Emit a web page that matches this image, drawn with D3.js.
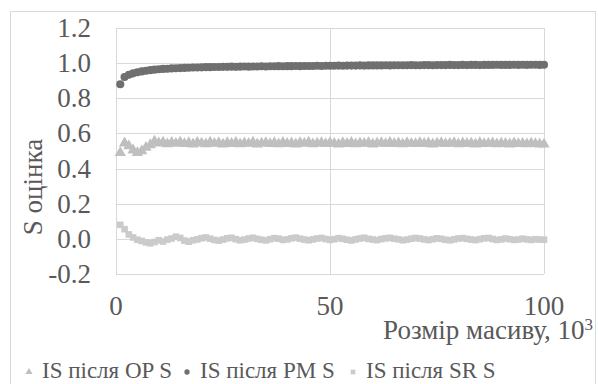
<!DOCTYPE html>
<html lang="uk">
<head>
<meta charset="utf-8">
<title>S оцінка</title>
<script src="https://cdn.jsdelivr.net/npm/d3@7"></script>
<style>
  body { margin: 0; background: #ffffff; }
  text { font-family: "Liberation Serif", "Times New Roman", serif; fill: #595959; }
</style>
</head>
<body>
<div id="chart"></div>
<script>
// ---------------- data ----------------
var xVals = d3.range(1, 101); // масив, тис.
var xTicks = [0, 50, 100];
var yTicks = [-0.2, 0, 0.2, 0.4, 0.6, 0.8, 1.0, 1.2];

var opS = [0.490,0.545,0.528,0.505,0.490,0.500,0.520,0.535,0.555,0.545,
  0.550,0.540,0.548,0.543,0.550,0.541,0.546,0.539,0.548,0.544,
  0.540,0.549,0.543,0.546,0.538,0.547,0.542,0.548,0.540,0.545,
  0.543,0.549,0.539,0.544,0.547,0.541,0.546,0.540,0.548,0.542,
  0.545,0.539,0.547,0.543,0.549,0.540,0.544,0.546,0.541,0.547,
  0.543,0.538,0.546,0.542,0.548,0.540,0.545,0.543,0.547,0.539,
  0.544,0.546,0.541,0.548,0.542,0.545,0.540,0.546,0.543,0.541,
  0.547,0.542,0.545,0.539,0.544,0.546,0.541,0.543,0.547,0.540,
  0.545,0.542,0.544,0.539,0.546,0.541,0.543,0.545,0.540,0.544,
  0.542,0.539,0.545,0.541,0.543,0.540,0.544,0.541,0.539,0.538];

var pmS = [0.880,0.921,0.934,0.942,0.948,0.953,0.957,0.960,0.963,0.965,
  0.967,0.968,0.970,0.971,0.972,0.973,0.974,0.975,0.975,0.976,
  0.977,0.977,0.978,0.978,0.979,0.979,0.980,0.979,0.980,0.981,
  0.980,0.981,0.981,0.982,0.981,0.982,0.982,0.983,0.982,0.983,
  0.983,0.984,0.983,0.984,0.984,0.984,0.985,0.984,0.985,0.985,
  0.985,0.986,0.985,0.986,0.986,0.986,0.987,0.986,0.987,0.987,
  0.987,0.987,0.988,0.987,0.988,0.988,0.988,0.988,0.989,0.988,
  0.988,0.989,0.989,0.988,0.989,0.989,0.989,0.990,0.989,0.989,
  0.990,0.989,0.990,0.990,0.989,0.990,0.990,0.990,0.991,0.990,
  0.990,0.990,0.991,0.990,0.991,0.990,0.991,0.991,0.990,0.991];

var srS = [0.080,0.055,0.025,0.008,-0.005,-0.012,-0.020,-0.025,-0.018,-0.008,
  -0.015,-0.004,0.002,0.012,0.005,-0.010,-0.016,-0.008,-0.003,0.004,
  0.008,0.001,-0.006,-0.010,-0.004,0.003,0.006,-0.002,-0.008,-0.004,
  0.002,0.006,0.000,-0.005,-0.009,-0.002,0.004,0.001,-0.006,-0.003,
  0.003,0.007,0.001,-0.004,-0.008,-0.003,0.002,0.005,-0.001,-0.006,
  -0.002,0.004,0.000,-0.005,-0.009,-0.003,0.002,0.006,0.000,-0.004,
  -0.007,-0.001,0.003,0.006,0.001,-0.003,-0.008,-0.004,0.001,0.005,
  0.002,-0.003,-0.007,-0.002,0.003,0.000,-0.005,-0.008,-0.003,0.002,
  0.004,0.000,-0.004,-0.007,-0.002,0.003,0.005,-0.001,-0.006,-0.003,
  0.002,-0.002,-0.006,-0.004,0.001,-0.003,-0.006,-0.002,-0.004,-0.005];

var seriesNames = ["IS після OP S", "IS після PM S", "IS після SR S"];
var seriesColors = ["#bfbfbf", "#6f6f6f", "#cbcbcb"];
var seriesShapes = [d3.symbolTriangle, d3.symbolCircle, d3.symbolSquare];

// ---------------- layout ----------------
var width = 598, height = 384;
var plot = {left: 116, right: 544, top: 28, bottom: 274};

var svg = d3.select("#chart").append("svg")
  .attr("width", width)
  .attr("height", height);

// outer chart border
svg.append("rect")
  .attr("x", 10.5).attr("y", 11.5)
  .attr("width", 585).attr("height", 380)
  .attr("fill", "#ffffff")
  .attr("stroke", "#d9d9d9");

var x = d3.scaleLinear().domain([0, 100]).range([plot.left, plot.right]);
var y = d3.scaleLinear().domain([-0.2, 1.2]).range([plot.bottom, plot.top]);

// gridlines
svg.append("g")
  .selectAll("line")
  .data(yTicks)
  .join("line")
  .attr("x1", plot.left).attr("x2", plot.right)
  .attr("y1", d => Math.round(y(d)) + 0.5)
  .attr("y2", d => Math.round(y(d)) + 0.5)
  .attr("stroke", "#d9d9d9");

svg.append("g")
  .selectAll("line")
  .data(xTicks)
  .join("line")
  .attr("x1", d => Math.round(x(d)) + 0.5)
  .attr("x2", d => Math.round(x(d)) + 0.5)
  .attr("y1", plot.top).attr("y2", plot.bottom)
  .attr("stroke", "#d9d9d9");

// tick labels
svg.append("g")
  .selectAll("text")
  .data(yTicks)
  .join("text")
  .attr("x", 91)
  .attr("y", d => y(d) + 9)
  .attr("text-anchor", "end")
  .attr("font-size", "27px")
  .text(d => d3.format(".1f")(d).replace("−", "-"));

svg.append("g")
  .selectAll("text")
  .data(xTicks)
  .join("text")
  .attr("x", d => x(d))
  .attr("y", 315)
  .attr("text-anchor", "middle")
  .attr("font-size", "27px")
  .text(d => d);

// axis titles
svg.append("text")
  .attr("transform", "translate(" + 42 + "," + 187 + ") rotate(-90)")
  .attr("text-anchor", "middle")
  .attr("font-size", "27px")
  .text("S оцінка");

var xt = svg.append("text")
  .attr("x", 593)
  .attr("y", 339)
  .attr("text-anchor", "end")
  .attr("font-size", "27px");
xt.append("tspan").text("Розмір масиву, 10");
xt.append("tspan").attr("dy", -9).attr("font-size", "17px").text("3");

// ---------------- series ----------------
var allSeries = [opS, pmS, srS];
var sizes = [56, 52, 44];

allSeries.forEach(function(vals, i) {
  svg.append("g")
    .selectAll("path")
    .data(vals)
    .join("path")
    .attr("transform", (d, j) => "translate(" + x(xVals[j]) + "," + y(d) + ")")
    .attr("d", d3.symbol().type(seriesShapes[i]).size(sizes[i]))
    .attr("fill", seriesColors[i]);
});

// ---------------- legend ----------------
var legendX = [29, 187, 353];
var legend = svg.append("g");
seriesNames.forEach(function(name, i) {
  legend.append("path")
    .attr("transform", "translate(" + legendX[i] + "," + 372 + ")")
    .attr("d", d3.symbol().type(seriesShapes[i]).size(22))
    .attr("fill", seriesColors[i]);
  legend.append("text")
    .attr("x", legendX[i] + 13)
    .attr("y", 378)
    .attr("font-size", "23px")
    .text(name);
});
</script>
</body>
</html>
